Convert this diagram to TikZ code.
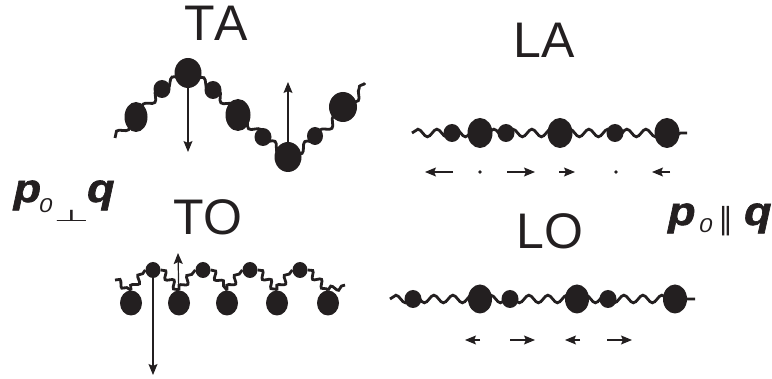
\documentclass[tikz,border=0pt]{standalone}
\usepackage{fontspec}
\setmainfont{Liberation Sans}
\newfontfamily\labelfont[Kerning=Off]{Liberation Sans}
\newfontfamily\vecfont[BoldItalicFeatures={FakeBold=1.5}]{Liberation Sans}
\newfontfamily\symfont{DejaVu Sans}
\usepackage{tikz}
\usetikzlibrary{arrows.meta, decorations.pathmorphing, shapes.geometric, backgrounds}
\definecolor{inkcolor}{RGB}{35,31,32}

\begin{document}
\begin{tikzpicture}[x=1pt, y=-1pt, >={Stealth[length=11pt,width=9pt,inset=2pt]},
    bigbead/.style={ellipse, fill=inkcolor, inner sep=0pt, minimum width=25pt, minimum height=30pt},
    smallbead/.style={ellipse, fill=inkcolor, inner sep=0pt, minimum width=17pt, minimum height=18pt},
    chain/.style={draw=inkcolor, line width=2.8pt, decorate,
        decoration={snake, amplitude=3.8pt, segment length=19pt}},
    link/.style={chain, decoration={snake, amplitude=3.2pt, segment length=12.5pt}},
    disp/.style={->, draw=inkcolor, line width=1.2pt},
    dot/.style={circle, fill=inkcolor, inner sep=0pt, minimum size=3.8pt},
    mode/.style={font=\labelfont\fontsize{50}{50}\selectfont, text=inkcolor, inner sep=0pt},
    vec/.style={font=\vecfont\fontsize{40}{40}\selectfont\bfseries\itshape, text=inkcolor, inner sep=0pt, anchor=base west},
    sub/.style={font=\fontsize{20}{20}\selectfont\itshape, text=inkcolor, inner sep=0pt, anchor=base west},
    rel/.style={font=\symfont\fontsize{16}{16}\selectfont, text=inkcolor, inner sep=0pt}]
    \useasboundingbox (0,0) rectangle (772,379);

    % Transverse acoustic
    \node[mode] (ta) at (216,23) {TA};
    \coordinate (ta0) at (115,138);
    \node[bigbead, minimum width=23pt] (ta1) at (136,117) {};
    \node[smallbead] (ta2) at (162,89) {};
    \node[bigbead, minimum width=27pt] (ta3) at (188,73) {};
    \node[smallbead] (ta4) at (213,90) {};
    \node[bigbead, minimum height=32pt] (ta5) at (238,115) {};
    \node[smallbead] (ta6) at (263,137) {};
    \node[bigbead, minimum width=27pt] (ta7) at (288,157) {};
    \node[smallbead, minimum width=16pt] (ta8) at (315,136) {};
    \node[bigbead, minimum width=28pt] (ta9) at (343,107) {};
    \coordinate (ta10) at (365,83);
    \begin{scope}[on background layer]
        \draw[chain] (ta0) \foreach \i in {1,...,9} { -- (ta\i.center) } -- (ta10);
    \end{scope}
    \coordinate (ta-down) at (188,152);
    \coordinate (ta-up) at (288,82);
    \draw[disp] (ta3) -- (ta-down);
    \draw[disp] (ta7) -- (ta-up);

    % Longitudinal acoustic
    \node[mode] (la) at (544,40) {LA};
    \coordinate (la0) at (412,133);
    \node[smallbead] (la1) at (452,133) {};
    \node[bigbead] (la2) at (480,133) {};
    \node[smallbead] (la3) at (506,133) {};
    \node[bigbead] (la4) at (560,133) {};
    \node[smallbead] (la5) at (615,133) {};
    \node[bigbead] (la6) at (667,133) {};
    \coordinate (la7) at (687,133);
    \begin{scope}[on background layer]
        \draw[chain] (la0) \foreach \i in {1,...,6} { -- (la\i.center) } -- (la7);
    \end{scope}
    \foreach \s/\e in {453/425, 507/535, 559/575, 670/652}
        \draw[disp] (\s,172) -- (\e,172);
    \node[dot] (la-rest1) at (480,172) {};
    \node[dot] (la-rest2) at (616,172) {};

    % Transverse optical
    \node[mode] (to) at (208,217) {TO};
    \coordinate (to0) at (115,280);
    \foreach \x [count=\i] in {131,179,227,277,328}
        \node[bigbead, minimum width=22pt, minimum height=25pt] (tob\i) at (\x,303) {};
    \foreach \x [count=\i] in {153,203,250,300}
        \node[smallbead, minimum width=15pt, minimum height=16pt] (tos\i) at (\x,270) {};
    \coordinate (to9) at (345,285);
    \begin{scope}[on background layer]
        \draw[link] (to0) -- (tob1.north);
        \foreach \i [evaluate=\i as \j using int(\i+1)] in {1,...,4} {
            \draw[link] (tob\i.north) -- (tos\i.west);
            \draw[link] (tos\i.east) -- (tob\j.north);
        }
        \draw[link] (tob5.north) -- (to9);
    \end{scope}
    \coordinate (to-down) at (153,375);
    \coordinate (to-up) at (178,253);
    \draw[disp] (tos1) -- (to-down);
    \draw[disp] (tob2) -- (to-up);

    % Longitudinal optical
    \node[mode] (lo) at (550,231) {LO};
    \coordinate (lo0) at (390,299);
    \foreach \x [count=\i] in {413,510,608}
        \node[smallbead] (los\i) at (\x,299) {};
    \foreach \x [count=\i] in {480,577,675}
        \node[bigbead, minimum width=24pt, minimum height=29pt] (lob\i) at (\x,299) {};
    \coordinate (lo7) at (695,299);
    \begin{scope}[on background layer]
        \draw[chain] (lo0) \foreach \i in {1,2,3} { -- (los\i.center) -- (lob\i.center) } -- (lo7);
    \end{scope}
    \foreach \s/\e in {480/465, 510/535, 580/565, 607/632}
        \draw[disp] (\s,340) -- (\e,340);

    % Orientation of p_0 against q
    \node[vec] (p-perp) at (13.5,202) {\scalebox{1.12}[1]{p}};
    \node[sub] (p-perp0) at (39,213) {\scalebox{1.2}[1]{0}};
    \node[rel, anchor=base] (perp) at (71.5,222) {\scalebox{2.6}[1]{⊥}};
    \node[vec] (q-perp) at (87,202) {\scalebox{1.12}[1]{q}};
    \node[vec] (p-par) at (668,225) {\scalebox{1.12}[1]{p}};
    \node[sub] (p-par0) at (699,233) {\scalebox{1.2}[1]{0}};
    \node[rel, font=\symfont\fontsize{30}{30}\selectfont, anchor=base] (par) at (726,230) {∥};
    \node[vec] (q-par) at (744,225) {\scalebox{1.12}[1]{q}};
\end{tikzpicture}
\end{document}
